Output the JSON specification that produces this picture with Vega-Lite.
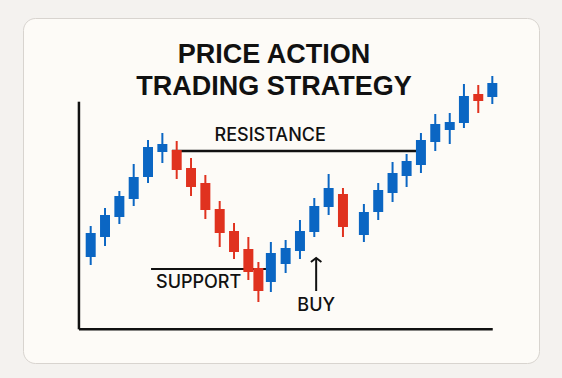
{
  "$schema": "https://vega.github.io/schema/vega-lite/v6.json",
  "width": 516,
  "height": 345,
  "autosize": {"type": "none"},
  "padding": {"left": 23, "top": 18, "right": 23, "bottom": 15},
  "background": "#f4f2ef",
  "config": {
    "view": {"fill": "#fdfbf7", "stroke": "#d8d4cf", "strokeWidth": 1, "cornerRadius": 12},
    "scale": {"continuousPadding": 0}
  },
  "title": {
    "text": ["PRICE ACTION", "TRADING STRATEGY"],
    "font": "Liberation Sans",
    "fontWeight": "bold",
    "fontSize": 27,
    "lineHeight": 32,
    "color": "#111111",
    "anchor": "middle",
    "orient": "top",
    "offset": -110,
    "dx": -7,
    "baseline": "bottom"
  },
  "datasets": {
    "candles": [
      {"t": 1, "o": 61.5, "c": 73.5, "h": 77, "l": 57.5, "dir": "up"},
      {"t": 2, "o": 71.5, "c": 82.5, "h": 86, "l": 67, "dir": "up"},
      {"t": 3, "o": 81.5, "c": 92, "h": 94.5, "l": 78, "dir": "up"},
      {"t": 4, "o": 90.5, "c": 101.5, "h": 108, "l": 87, "dir": "up"},
      {"t": 5, "o": 101.5, "c": 116.5, "h": 120, "l": 98.5, "dir": "up"},
      {"t": 6, "o": 114, "c": 118, "h": 123.5, "l": 108.5, "dir": "up"},
      {"t": 7, "o": 115, "c": 105, "h": 119.5, "l": 100.5, "dir": "down"},
      {"t": 8, "o": 106, "c": 96.5, "h": 111, "l": 92, "dir": "down"},
      {"t": 9, "o": 98.5, "c": 85, "h": 102.5, "l": 80.5, "dir": "down"},
      {"t": 10, "o": 85.5, "c": 73.5, "h": 89.5, "l": 66.5, "dir": "down"},
      {"t": 11, "o": 74.5, "c": 64, "h": 78.5, "l": 60.5, "dir": "down"},
      {"t": 12, "o": 65.5, "c": 54, "h": 71.5, "l": 50, "dir": "down"},
      {"t": 12.7, "o": 56, "c": 44.5, "h": 59, "l": 39, "dir": "down"},
      {"t": 13.57, "o": 49, "c": 63.5, "h": 69, "l": 44, "dir": "up"},
      {"t": 14.6, "o": 58, "c": 66, "h": 70, "l": 53.5, "dir": "up"},
      {"t": 15.6, "o": 64.5, "c": 74.5, "h": 80, "l": 60.5, "dir": "up"},
      {"t": 16.6, "o": 74, "c": 87, "h": 91, "l": 71.5, "dir": "up"},
      {"t": 17.6, "o": 86.5, "c": 96, "h": 103, "l": 82.5, "dir": "up"},
      {"t": 18.6, "o": 93, "c": 76.5, "h": 96, "l": 71.5, "dir": "down"},
      {"t": 20.06, "o": 72.5, "c": 84, "h": 88, "l": 69, "dir": "up"},
      {"t": 21.06, "o": 84, "c": 95, "h": 98.5, "l": 80, "dir": "up"},
      {"t": 22.06, "o": 93.5, "c": 103.5, "h": 109, "l": 89, "dir": "up"},
      {"t": 23.04, "o": 102, "c": 109.5, "h": 113, "l": 96.5, "dir": "up"},
      {"t": 24.04, "o": 107.5, "c": 120, "h": 123.5, "l": 103.5, "dir": "up"},
      {"t": 25.04, "o": 119, "c": 128, "h": 133, "l": 114.5, "dir": "up"},
      {"t": 26.05, "o": 125, "c": 129, "h": 133.5, "l": 118, "dir": "up"},
      {"t": 27.04, "o": 128.5, "c": 142, "h": 148, "l": 126, "dir": "up"},
      {"t": 28.04, "o": 143, "c": 139.5, "h": 147.5, "l": 133.5, "dir": "down"},
      {"t": 29.02, "o": 141.5, "c": 148.5, "h": 152, "l": 138, "dir": "up"}
    ],
    "heavyLines": [
      {"name": "y axis", "t": 0.18, "t2": 0.18, "p": 25.35, "p2": 139.15},
      {"name": "x axis", "t": 0.18, "t2": 29.05, "p": 25.35, "p2": 25.35},
      {"name": "resistance", "t": 6.67, "t2": 23.7, "p": 114.5, "p2": 114.5}
    ],
    "lightLines": [
      {"name": "support", "t": 5.21, "t2": 13.23, "p": 55.5, "p2": 55.5},
      {"name": "buy arrow", "t": 16.73, "t2": 16.73, "p": 44.5, "p2": 60.5}
    ],
    "arrowHead": [{"t": 16.73, "p": 61}],
    "labels": [
      {"label": "RESISTANCE", "t": 13.52, "p": 122},
      {"label": "SUPPORT", "t": 8.53, "p": 48.5},
      {"label": "BUY", "t": 16.73, "p": 37.25}
    ]
  },
  "layer": [
    {
      "data": {"name": "heavyLines"},
      "mark": {"type": "rule", "color": "#111111", "strokeWidth": 2.5},
      "encoding": {
        "x": {"field": "t", "type": "quantitative", "axis": null, "scale": {"domain": [-3.723, 32.277], "nice": false, "zero": false, "padding": 0}},
        "x2": {"field": "t2"},
        "y": {"field": "p", "type": "quantitative", "axis": null, "scale": {"domain": [8.5, 181], "nice": false, "zero": false, "padding": 0}},
        "y2": {"field": "p2"}
      }
    },
    {
      "data": {"name": "lightLines"},
      "mark": {"type": "rule", "color": "#111111", "strokeWidth": 2},
      "encoding": {
        "x": {"field": "t", "type": "quantitative", "axis": null, "scale": {"domain": [-3.723, 32.277], "nice": false, "zero": false, "padding": 0}},
        "x2": {"field": "t2"},
        "y": {"field": "p", "type": "quantitative", "axis": null, "scale": {"domain": [8.5, 181], "nice": false, "zero": false, "padding": 0}},
        "y2": {"field": "p2"}
      }
    },
    {
      "data": {"name": "arrowHead"},
      "mark": {"type": "point", "shape": "M-1,0.75L0,0L1,0.75", "filled": false, "size": 110, "strokeWidth": 2, "color": "#111111", "opacity": 1},
      "encoding": {
        "x": {"field": "t", "type": "quantitative", "axis": null, "scale": {"domain": [-3.723, 32.277], "nice": false, "zero": false, "padding": 0}},
        "y": {"field": "p", "type": "quantitative", "axis": null, "scale": {"domain": [8.5, 181], "nice": false, "zero": false, "padding": 0}}
      }
    },
    {
      "data": {"name": "candles"},
      "mark": {"type": "rule", "strokeWidth": 2},
      "encoding": {
        "x": {"field": "t", "type": "quantitative", "axis": null, "scale": {"domain": [-3.723, 32.277], "nice": false, "zero": false, "padding": 0}},
        "y": {"field": "l", "type": "quantitative", "axis": null, "scale": {"domain": [8.5, 181], "nice": false, "zero": false, "padding": 0}},
        "y2": {"field": "h"},
        "color": {"field": "dir", "type": "nominal", "legend": null, "scale": {"domain": ["up", "down"], "range": ["#0b66c3", "#e0321f"]}}
      }
    },
    {
      "data": {"name": "candles"},
      "mark": {"type": "bar", "width": 10},
      "encoding": {
        "x": {"field": "t", "type": "quantitative", "axis": null, "scale": {"domain": [-3.723, 32.277], "nice": false, "zero": false, "padding": 0}},
        "y": {"field": "o", "type": "quantitative", "axis": null, "scale": {"domain": [8.5, 181], "nice": false, "zero": false, "padding": 0}},
        "y2": {"field": "c"},
        "color": {"field": "dir", "type": "nominal", "legend": null, "scale": {"domain": ["up", "down"], "range": ["#0b66c3", "#e0321f"]}}
      }
    },
    {
      "data": {"name": "labels"},
      "mark": {"type": "text", "font": "Inter", "fontWeight": 500, "fontSize": 18, "color": "#111111", "align": "center", "baseline": "middle"},
      "encoding": {
        "x": {"field": "t", "type": "quantitative", "axis": null, "scale": {"domain": [-3.723, 32.277], "nice": false, "zero": false, "padding": 0}},
        "y": {"field": "p", "type": "quantitative", "axis": null, "scale": {"domain": [8.5, 181], "nice": false, "zero": false, "padding": 0}},
        "text": {"field": "label"}
      }
    }
  ]
}
